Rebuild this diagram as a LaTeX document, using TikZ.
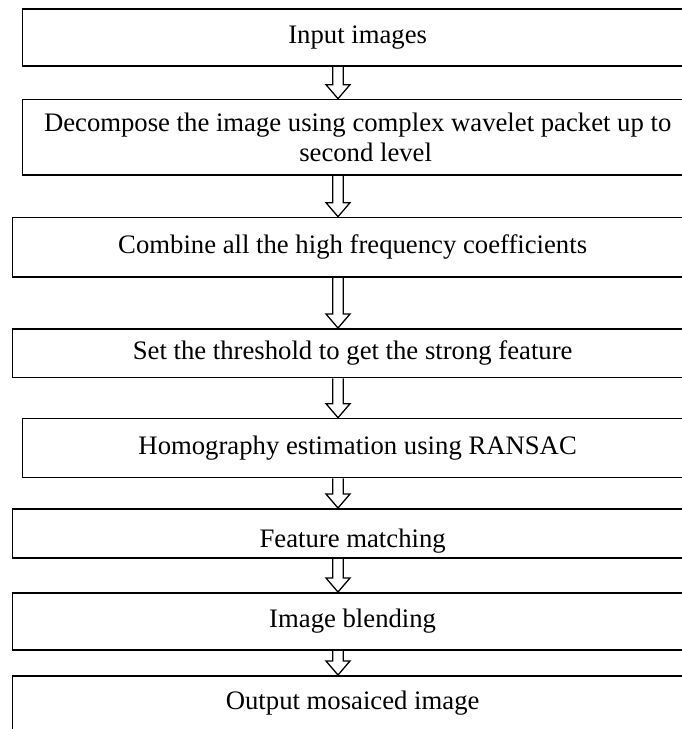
\documentclass[tikz,border=0pt]{standalone}
\usepackage{fontspec}
\setmainfont{Liberation Serif}
\usetikzlibrary{calc}

\tikzset{
  stepbox/.style={draw, line width=1.6pt, rectangle, inner sep=0pt,
    anchor=north west, align=center,
    font=\fontsize{26.7}{30}\selectfont},
  hollowarrow/.style={draw, line width=1.3pt, line join=miter},
}

% hollow block arrow from the bottom of one box to the top of the next
\newcommand\flowarrow[2]{%
  \path[hollowarrow] let \p1=(ax |- #1.south), \p2=(ax |- #2.north) in
    (\x1-5.3pt,\y1) -- (\x1-5.3pt,\y2+14pt) -- (\x1-12pt,\y2+14pt)
    -- (\x1,\y2) -- (\x1+12pt,\y2+14pt) -- (\x1+5.3pt,\y2+14pt)
    -- (\x1+5.3pt,\y1);}

\begin{document}
\begin{tikzpicture}[x=1pt,y=-1pt]
  \path[use as bounding box] (0,0) rectangle (682,729);
  \clip (0,0) rectangle (682,729);

  \coordinate (ax) at (338,0);

  \node[stepbox, minimum width=670.3pt, minimum height=56.7pt] (b1) at (21.7,8.3) {Input images};
  \node[stepbox, minimum width=670.3pt, minimum height=75.3pt] (b2) at (21.7,98.7)
    {Decompose the image using complex wavelet packet up to\\\hspace*{16pt}second level};
  \node[stepbox, minimum width=680.3pt, minimum height=59.3pt] (b3) at (11.7,216.7)
    {Combine all the high frequency coefficients};
  \node[stepbox, minimum width=680.3pt, minimum height=48.7pt] (b4) at (11.7,328)
    {Set the threshold to get the strong feature};
  \node[stepbox, minimum width=670.3pt, minimum height=59pt] (b5) at (21.7,417.7)
    {Homography estimation using RANSAC};
  \node[stepbox, minimum width=680.3pt, minimum height=49pt] (b6) at (11.7,508)
    {\raisebox{-14pt}[0pt][0pt]{Feature matching}};
  \node[stepbox, minimum width=680.3pt, minimum height=57pt] (b7) at (11.7,592)
    {Image blending};
  \node[stepbox, minimum width=680.3pt, minimum height=54pt] (b8) at (11.7,675)
    {Output mosaiced image};

  \flowarrow{b1}{b2}
  \flowarrow{b2}{b3}
  \flowarrow{b3}{b4}
  \flowarrow{b4}{b5}
  \flowarrow{b5}{b6}
  \flowarrow{b6}{b7}
  \flowarrow{b7}{b8}
\end{tikzpicture}
\end{document}
